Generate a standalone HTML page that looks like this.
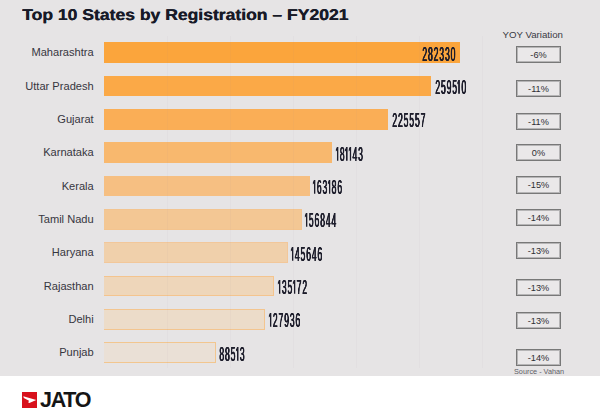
<!DOCTYPE html>
<html><head><meta charset="utf-8"><style>
*{margin:0;padding:0;box-sizing:border-box}
html,body{width:600px;height:413px;overflow:hidden;background:#fff}
body{position:relative;font-family:"Liberation Sans",sans-serif}
.bg{position:absolute;left:0;top:0;width:600px;height:376px;background:#e6e4e5}
.title{position:absolute;left:22px;top:8px;font-weight:bold;font-size:15.6px;line-height:16px;color:#181a28;white-space:nowrap;transform-origin:0 0;transform:scaleX(1.125);letter-spacing:0;text-rendering:geometricPrecision;text-shadow:0.35px 0 0 #181a28}
.grid{position:absolute;top:36px;width:1px;height:332px;background:rgba(150,145,150,0.05);z-index:2}
.lab{position:absolute;right:506.3px;font-size:11.1px;color:#363640;white-space:nowrap;line-height:12px}
.bar{position:absolute;left:104px;border:1px solid;border-left:none}
.num{position:absolute;font-weight:normal;font-size:19.5px;line-height:18px;color:#1e1e2c;white-space:nowrap;transform-origin:0 0;transform:scaleX(0.44);letter-spacing:2.00px;text-shadow:0.80px 0 0 #1e1e2c,1.59px 0 0 #1e1e2c;will-change:transform;z-index:3}
.one{display:inline-block;vertical-align:baseline;fill:#1e1e2c}
.box{position:absolute;left:516px;width:45px;height:17.3px;border:1px solid #787878;box-shadow:inset 0 0 0 1px rgba(120,120,120,.45);background:#eae8e9;font-size:9.2px;color:#2f2f33;text-align:center;line-height:16px}
.yoy{position:absolute;left:502.5px;top:28.6px;font-size:9.7px;color:#3a3a44;white-space:nowrap;line-height:11px}
.src{position:absolute;left:514px;top:367.3px;font-size:7.3px;color:#5e5e66;white-space:nowrap;line-height:9px}
.logo{position:absolute;left:22px;top:392px;width:15.2px;height:15.7px;background:#d8111c}
.jato{position:absolute;left:40px;top:389px;font-weight:bold;font-size:21.5px;line-height:22px;color:#151515;letter-spacing:-1.3px}
</style></head><body>
<div class="bg"></div>
<div class="title">Top 10 States by Registration – FY2021</div>

<div class="grid" style="left:166.5px"></div>
<div class="grid" style="left:229.6px"></div>
<div class="grid" style="left:292.6px"></div>
<div class="grid" style="left:355.7px"></div>
<div class="grid" style="left:418.7px"></div>
<div class="grid" style="left:481.8px"></div>
<div class="yoy">YOY Variation</div>
<div class="bar" style="top:42.2px;width:356.0px;height:20.8px;background:#fba53c;border-color:#fba53c"></div>
<div class="lab" style="top:46.4px">Maharashtra</div>
<div class="num" style="left:421.7px;top:44.6px">282330</div>
<div class="box" style="top:46.2px">-6%</div>
<div class="bar" style="top:75.5px;width:327.2px;height:20.8px;background:#fba947;border-color:#fba947"></div>
<div class="lab" style="top:79.7px">Uttar Pradesh</div>
<div class="num" style="left:434.7px;top:77.9px">2595<svg class=one width="7.95" height="13.79" viewBox="0 0 7.95 13.79" style="overflow:visible"><path d="M1.98 0H5.39V13.79H1.98V3.6L-0.30 4.6V2.4Z"/></svg>0</div>
<div class="box" style="top:80.2px">-11%</div>
<div class="bar" style="top:108.9px;width:284.4px;height:20.8px;background:#faae56;border-color:#faae56"></div>
<div class="lab" style="top:113.1px">Gujarat</div>
<div class="num" style="left:391.9px;top:111.3px">225557</div>
<div class="box" style="top:112.5px">-11%</div>
<div class="bar" style="top:142.2px;width:228.4px;height:20.8px;background:#f8b86e;border-color:#f8b86e"></div>
<div class="lab" style="top:146.4px">Karnataka</div>
<div class="num" style="left:335.9px;top:144.6px"><svg class=one width="7.95" height="13.79" viewBox="0 0 7.95 13.79" style="overflow:visible"><path d="M1.98 0H5.39V13.79H1.98V3.6L-0.30 4.6V2.4Z"/></svg>8<svg class=one width="7.95" height="13.79" viewBox="0 0 7.95 13.79" style="overflow:visible"><path d="M1.98 0H5.39V13.79H1.98V3.6L-0.30 4.6V2.4Z"/></svg><svg class=one width="7.95" height="13.79" viewBox="0 0 7.95 13.79" style="overflow:visible"><path d="M1.98 0H5.39V13.79H1.98V3.6L-0.30 4.6V2.4Z"/></svg>43</div>
<div class="box" style="top:144.1px">0%</div>
<div class="bar" style="top:175.5px;width:205.8px;height:20.8px;background:#f6bf82;border-color:#f6bf82"></div>
<div class="lab" style="top:179.7px">Kerala</div>
<div class="num" style="left:313.3px;top:177.9px"><svg class=one width="7.95" height="13.79" viewBox="0 0 7.95 13.79" style="overflow:visible"><path d="M1.98 0H5.39V13.79H1.98V3.6L-0.30 4.6V2.4Z"/></svg>63<svg class=one width="7.95" height="13.79" viewBox="0 0 7.95 13.79" style="overflow:visible"><path d="M1.98 0H5.39V13.79H1.98V3.6L-0.30 4.6V2.4Z"/></svg>86</div>
<div class="box" style="top:176.3px">-15%</div>
<div class="bar" style="top:208.8px;width:197.8px;height:20.8px;background:#f3c794;border-color:#f3c48f"></div>
<div class="lab" style="top:213.0px">Tamil Nadu</div>
<div class="num" style="left:305.3px;top:211.2px"><svg class=one width="7.95" height="13.79" viewBox="0 0 7.95 13.79" style="overflow:visible"><path d="M1.98 0H5.39V13.79H1.98V3.6L-0.30 4.6V2.4Z"/></svg>56844</div>
<div class="box" style="top:208.5px">-14%</div>
<div class="bar" style="top:242.2px;width:183.7px;height:20.8px;background:#f0d0ab;border-color:#f2c79a"></div>
<div class="lab" style="top:246.4px">Haryana</div>
<div class="num" style="left:291.2px;top:244.6px"><svg class=one width="7.95" height="13.79" viewBox="0 0 7.95 13.79" style="overflow:visible"><path d="M1.98 0H5.39V13.79H1.98V3.6L-0.30 4.6V2.4Z"/></svg>45646</div>
<div class="box" style="top:242.0px">-13%</div>
<div class="bar" style="top:275.5px;width:170.4px;height:20.8px;background:#eed6ba;border-color:#f4c48e"></div>
<div class="lab" style="top:279.7px">Rajasthan</div>
<div class="num" style="left:277.9px;top:277.9px"><svg class=one width="7.95" height="13.79" viewBox="0 0 7.95 13.79" style="overflow:visible"><path d="M1.98 0H5.39V13.79H1.98V3.6L-0.30 4.6V2.4Z"/></svg>35<svg class=one width="7.95" height="13.79" viewBox="0 0 7.95 13.79" style="overflow:visible"><path d="M1.98 0H5.39V13.79H1.98V3.6L-0.30 4.6V2.4Z"/></svg>72</div>
<div class="box" style="top:279.1px">-13%</div>
<div class="bar" style="top:308.8px;width:161.3px;height:20.8px;background:#ecdcc9;border-color:#f3c58f"></div>
<div class="lab" style="top:313.0px">Delhi</div>
<div class="num" style="left:268.8px;top:311.2px"><svg class=one width="7.95" height="13.79" viewBox="0 0 7.95 13.79" style="overflow:visible"><path d="M1.98 0H5.39V13.79H1.98V3.6L-0.30 4.6V2.4Z"/></svg>27936</div>
<div class="box" style="top:312.2px">-13%</div>
<div class="bar" style="top:342.2px;width:111.6px;height:20.8px;background:#eae0d6;border-color:#f2c68f"></div>
<div class="lab" style="top:346.4px">Punjab</div>
<div class="num" style="left:219.1px;top:344.6px">885<svg class=one width="7.95" height="13.79" viewBox="0 0 7.95 13.79" style="overflow:visible"><path d="M1.98 0H5.39V13.79H1.98V3.6L-0.30 4.6V2.4Z"/></svg>3</div>
<div class="box" style="top:348.5px">-14%</div>
<div class="src">Source - Vahan</div>
<div class="logo"><svg width="15" height="15.7" viewBox="0 0 15 15.7" style="display:block"><path d="M1.3 4.3 L14.3 8.1 L7.4 11.1 L6.2 10.6 L7.0 8.8 L1.8 6.0 Z" fill="#fff"/></svg></div>
<div class="jato">JATO</div>
</body></html>
